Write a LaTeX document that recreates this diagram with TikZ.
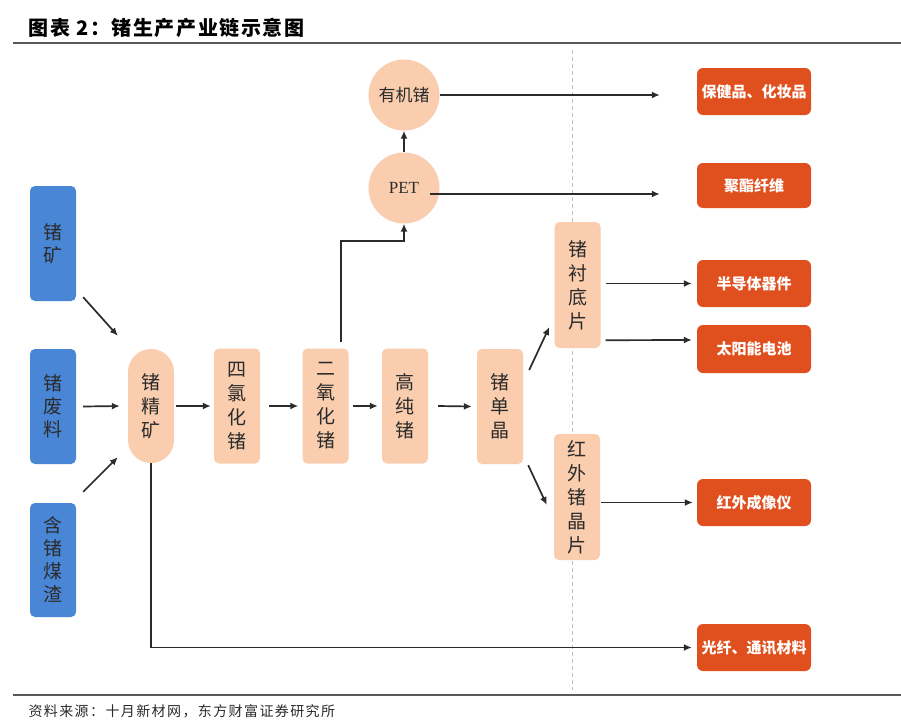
\documentclass[tikz,border=0pt]{standalone}
\usepackage{fontspec}
\setmainfont{Noto Sans CJK SC}
\newfontfamily\petfont{Liberation Serif}
\newfontfamily\titlefont[LetterSpace=8]{Noto Sans CJK SC}
\newfontfamily\srcfont[LetterSpace=10]{Noto Sans CJK SC}
\usetikzlibrary{calc,arrows.meta}

\definecolor{oreblue}{HTML}{4A86D6}
\definecolor{peach}{HTML}{F9CDAE}
\definecolor{appred}{HTML}{E0501E}
\definecolor{ink}{HTML}{2B2B2B}

\begin{document}
\begin{tikzpicture}[x=1pt,y=-1pt,
  raw/.style={fill=oreblue,rounded corners=5pt,minimum width=46pt,minimum height=115pt,text=ink,align=center,inner sep=0pt,font=\fontsize{19}{23}\selectfont},
  stage/.style={fill=peach,rounded corners=5pt,minimum width=46pt,minimum height=115pt,text=ink,align=center,inner sep=0pt,font=\fontsize{19}{24}\selectfont},
  ball/.style={circle,fill=peach,minimum size=71pt,text=ink,inner sep=0pt,font=\fontsize{17}{20}\selectfont},
  app/.style={fill=appred,rounded corners=6pt,minimum width=114pt,minimum height=47pt,text=white,inner sep=0pt,font=\fontsize{15}{18}\selectfont\bfseries},
  flow/.style={-{Latex[length=8pt,width=7pt]},line width=1.7pt,draw=ink},
  rule/.style={line width=2pt,draw=black!65},
  divider/.style={line width=1pt,draw=black!25,dash pattern=on 4pt off 3pt}]

\useasboundingbox (0,0) rectangle (901,723);
\fill[white] (0,0) rectangle (901,723);

\node[anchor=west,text=black,font=\titlefont\fontsize{20}{24}\selectfont\bfseries] (title) at (25,28) {图表 2：锗生产产业链示意图};
\draw[rule] (13,43) -- (901,43);
\draw[rule] (13,695) -- (901,695);
\node[anchor=west,text=ink,font=\srcfont\fontsize{14}{16}\selectfont] (source) at (25,711) {资料来源：十月新材网，东方财富证券研究所};

\draw[divider] (572,50) -- (572,690);

\node[raw] (ore) at (53,243.5) {锗\\矿};
\node[raw] (waste) at (53,406.5) {锗\\废\\料};
\node[raw,minimum height=114pt] (slag) at (53,560) {含\\锗\\煤\\渣};

\node[stage,rounded corners=23pt,minimum height=114pt] (conc) at (151,406) {锗\\精\\矿};
\node[stage] (tetra) at (237,406) {四\\氯\\化\\锗};
\node[stage] (dioxide) at (325.5,406) {二\\氧\\化\\锗};
\node[stage] (pure) at (405,406) {高\\纯\\锗};
\node[stage] (crystal) at (500,406.5) {锗\\单\\晶};
\node[stage,minimum height=126pt] (substrate) at (577.5,285) {锗\\衬\\底\\片};
\node[stage,minimum height=126pt] (irwafer) at (577,497) {红\\外\\锗\\晶\\片};

\node[ball] (organic) at (404,95) {有机锗};
\node[ball,font=\petfont\fontsize{17}{20}\selectfont] (pet) at (404,188) {PET};

\node[app] (health) at (754,91.5) {保健品、化妆品};
\node[app,minimum height=45pt] (fibre) at (754,185.5) {聚酯纤维};
\node[app] (semi) at (754,283.5) {半导体器件};
\node[app,minimum height=48pt] (solar) at (754,349) {太阳能电池};
\node[app] (imaging) at (754,502.5) {红外成像仪};
\node[app] (optic) at (754,647.5) {光纤、通讯材料};

\draw[flow] ($(ore.south east)+(7,-4)$) -- ($(conc.north west)+(-10,-13)$);
\draw[flow] ([xshift=7pt]waste.east) -- ([xshift=-8pt]conc.west);
\draw[flow] ($(slag.north east)+(7,-11)$) -- ($(conc.south west)+(-10,-6)$);

\draw[flow] ([xshift=2pt]conc.east) -- ([xshift=-3pt]tetra.west);
\draw[flow] ([xshift=9pt]tetra.east) -- ([xshift=-4pt]dioxide.west);
\draw[flow] ([xshift=4pt]dioxide.east) -- ([xshift=-4pt]pure.west);
\draw[flow] ([xshift=10pt]pure.east) -- ([xshift=-5pt]crystal.west);

\draw[flow,line width=2.2pt] ($(dioxide.north)+(15.5,-6)$) |- ($(pet.south)+(0,17)$) -- (pet.south);
\draw[flow] (pet.north) -- (organic.south);

\draw[flow] (organic.east) -- ($(organic.east -| health.west)+(-37,0)$);
\draw[flow] ($(pet.center)+(26,6)$) -- ($(pet.center -| fibre.west)+(-37,6)$);

\draw[flow] ($(crystal.east)+(6,-36.5)$) -- ($(substrate.west)+(-5,42)$);
\draw[flow] ($(crystal.south east)+(5,1)$) -- ($(irwafer.west)+(-7,8)$);

\draw[flow] ($(substrate.east |- semi.west)+(5,0)$) -- ([xshift=-5pt]semi.west);
\draw[flow] ($(substrate.south east)+(5,-8)$) -- ($(solar.west)+(-5,-9)$);
\draw[flow] ($(irwafer.east |- imaging.west)+(1,0)$) -- ([xshift=-4pt]imaging.west);

\draw[flow] (conc.south) |- ([xshift=-5pt]optic.west);

\end{tikzpicture}
\end{document}
